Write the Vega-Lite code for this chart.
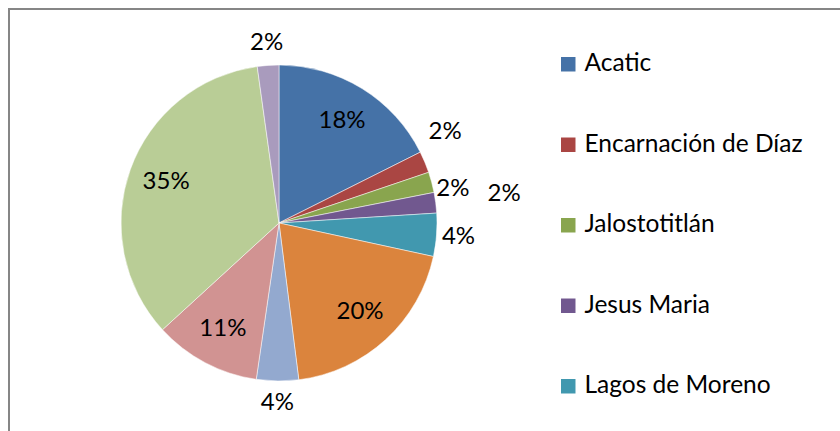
{
  "$schema": "https://vega.github.io/schema/vega-lite/v6.json",
  "autosize": {"type": "none"},
  "width": 540,
  "height": 428,
  "padding": {"left": 9, "top": 9, "right": 291, "bottom": -6},
  "background": "white",
  "view": {"stroke": "#868686", "strokeWidth": 2, "strokeDash": [540, 968, 428]},
  "config": {
    "legend": {"strokeColor": "#868686", "strokeWidth": 2, "strokeDash": [1080, 3000]}
  },
  "data": {
    "values": [
      {"name": "Acatic", "value": 17.6, "label": "18%"},
      {"name": "Encarnación de Díaz", "value": 2.2, "label": "2%"},
      {"name": "Jalostotitlán", "value": 2.1, "label": "2%"},
      {"name": "Jesus Maria", "value": 2.1, "label": "2%"},
      {"name": "Lagos de Moreno", "value": 4.4, "label": "4%"},
      {"name": "San Juan de los Lagos", "value": 19.6, "label": "20%"},
      {"name": "San Julián", "value": 4.3, "label": "4%"},
      {"name": "San Miguel el Alto", "value": 10.9, "label": "11%"},
      {"name": "Tepatitlán de Morelos", "value": 34.6, "label": "35%"},
      {"name": "Valle de Guadalupe", "value": 2.2, "label": "2%"}
    ]
  },
  "encoding": {
    "theta": {"field": "value", "type": "quantitative", "stack": true},
    "order": {"field": "name"},
    "detail": {"field": "name"}
  },
  "layer": [
    {
      "mark": {"type": "arc", "radius": 158, "stroke": "white", "strokeWidth": 0.5},
      "encoding": {
        "color": {
          "field": "name",
          "type": "nominal",
          "scale": {
            "domain": ["Acatic", "Encarnación de Díaz", "Jalostotitlán", "Jesus Maria", "Lagos de Moreno", "San Juan de los Lagos", "San Julián", "San Miguel el Alto", "Tepatitlán de Morelos", "Valle de Guadalupe"],
            "range": ["#4572A7", "#AA4643", "#89A54E", "#71588F", "#4198AF", "#DB843D", "#93A9CF", "#D19392", "#B9CD96", "#A99BBD"]
          },
          "legend": {
            "title": null,
            "orient": "right",
            "offset": -36,
            "padding": 43,
            "values": ["Acatic", "Encarnación de Díaz", "Jalostotitlán", "Jesus Maria", "Lagos de Moreno"],
            "symbolType": "square",
            "symbolSize": 210,
            "symbolStrokeWidth": 0,
            "labelFont": "Lato",
            "labelFontSize": 24.5,
            "labelColor": "black",
            "labelOffset": 4,
            "labelLimit": 400,
            "rowPadding": 55.5
          }
        }
      }
    },
    {
      "mark": {"type": "text", "radius": 120, "font": "Lato", "fontSize": 24, "fill": "black"},
      "encoding": {"text": {"condition": {"test": "datum.value >= 10", "field": "label", "type": "nominal"}, "value": ""}}
    },
    {
      "mark": {"type": "text", "radius": 180, "font": "Lato", "fontSize": 24, "fill": "black"},
      "encoding": {"text": {"condition": {"test": "datum.value < 10 && datum.name !== 'Jesus Maria' && datum.name !== 'Encarnación de Díaz' && datum.name !== 'Jalostotitlán'", "field": "label", "type": "nominal"}, "value": ""}}
    },
    {
      "mark": {"type": "text", "radius": 180, "dy": -22, "font": "Lato", "fontSize": 24, "fill": "black"},
      "encoding": {"text": {"condition": {"test": "datum.name === 'Encarnación de Díaz'", "field": "label", "type": "nominal"}, "value": ""}}
    },
    {
      "mark": {"type": "text", "radius": 180, "dy": 12, "font": "Lato", "fontSize": 24, "fill": "black"},
      "encoding": {"text": {"condition": {"test": "datum.name === 'Jalostotitlán'", "field": "label", "type": "nominal"}, "value": ""}}
    },
    {
      "mark": {"type": "text", "radius": 227, "font": "Lato", "fontSize": 24, "fill": "black"},
      "encoding": {"text": {"condition": {"test": "datum.name === 'Jesus Maria'", "field": "label", "type": "nominal"}, "value": ""}}
    }
  ]
}
